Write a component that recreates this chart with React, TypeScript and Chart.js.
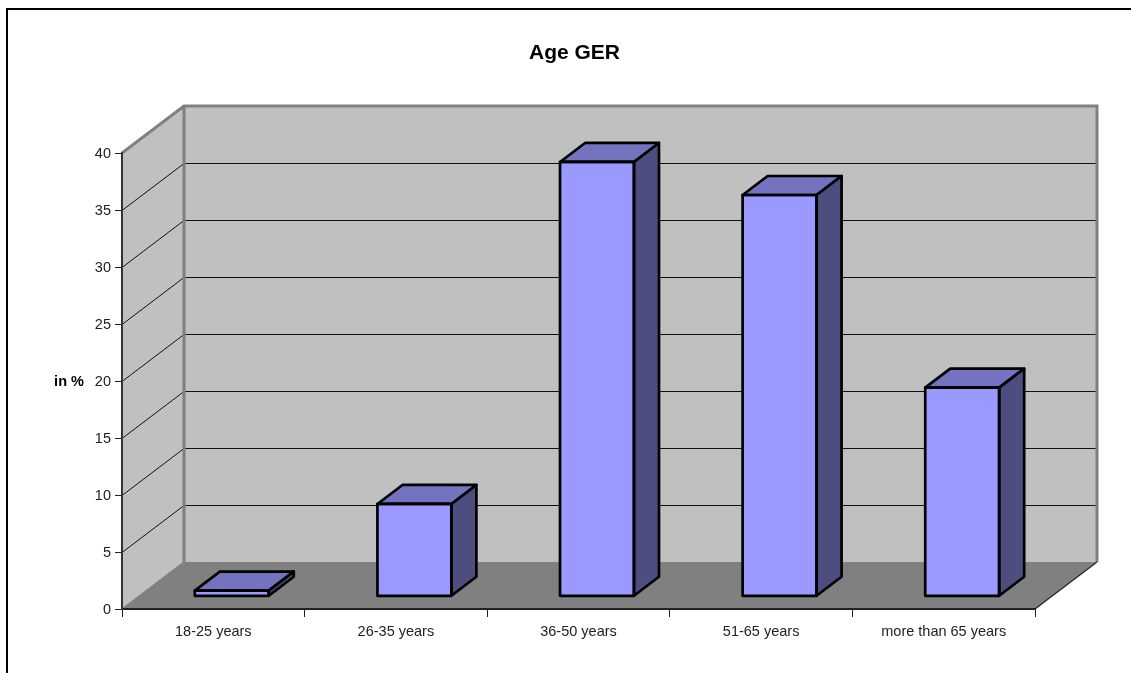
import React, { useEffect, useRef } from "react";
import { Chart, registerables } from "chart.js";

Chart.register(...registerables);

const ageGroups = ["18-25 years", "26-35 years", "36-50 years", "51-65 years", "more than 65 years"];
const sharePercent = [0.5, 8.1, 38.1, 35.2, 18.3];
const chartTitle = "Age GER";
const valueAxisLabel = "in %";

const FONT = "'Liberation Sans', Arial, sans-serif";
const WALL = "#C0C0C0";
const FLOOR = "#808080";
const EDGE = "#808080";
const BAR_FRONT = "#9999FF";
const BAR_TOP = "#7373BF";
const BAR_SIDE = "#4D4D80";

// Projection of the box: how far the back wall sits from the front plane.
const ROOM_DX = 62;
const ROOM_DY = 47;
// Where the bars stand inside the room, and how deep they are.
const BAR_DX = 18.5;
const BAR_DY = 12.7;
const BAR_DEPTH_X = 25;
const BAR_DEPTH_Y = 19;
const BAR_OUTLINE = 2.7;

const roomPlugin = {
  id: "room",
  afterLayout(chart: any) {
    // The value scale keeps a narrow layout box; widen it so its labels are not clipped.
    chart.scales.y.left = 20;
  },
  beforeDraw(chart: any) {
    const { ctx, chartArea: a, scales } = chart;
    const yScale = scales.y;
    const y0 = yScale.getPixelForValue(0);
    const yMax = yScale.getPixelForValue(40);
    const L = a.left;
    const R = a.right;

    ctx.save();
    // Page frame: only the left and top sides fall on the canvas.
    ctx.strokeStyle = "#000";
    ctx.lineWidth = 2;
    ctx.beginPath();
    ctx.moveTo(7, chart.height);
    ctx.lineTo(7, 9);
    ctx.lineTo(chart.width, 9);
    ctx.stroke();

    // Floor
    ctx.fillStyle = FLOOR;
    ctx.beginPath();
    ctx.moveTo(L, y0);
    ctx.lineTo(L + ROOM_DX, y0 - ROOM_DY);
    ctx.lineTo(R + ROOM_DX, y0 - ROOM_DY);
    ctx.lineTo(R, y0);
    ctx.closePath();
    ctx.fill();

    // Left and back walls
    ctx.fillStyle = WALL;
    ctx.beginPath();
    ctx.moveTo(L, y0);
    ctx.lineTo(L, yMax);
    ctx.lineTo(L + ROOM_DX, yMax - ROOM_DY);
    ctx.lineTo(L + ROOM_DX, y0 - ROOM_DY);
    ctx.closePath();
    ctx.fill();
    ctx.fillRect(L + ROOM_DX, yMax - ROOM_DY, R - L, y0 - yMax);

    // Gridlines run along the left wall, then across the back wall.
    ctx.strokeStyle = "#111";
    ctx.lineWidth = 1;
    yScale.ticks.forEach((t: any) => {
      if (t.value <= 0 || t.value >= 40) return;
      const y = Math.round(yScale.getPixelForValue(t.value)) + 0.5;
      ctx.beginPath();
      ctx.moveTo(L, y);
      ctx.lineTo(L + ROOM_DX, y - ROOM_DY);
      ctx.lineTo(R + ROOM_DX, y - ROOM_DY);
      ctx.stroke();
    });

    // Wall edges
    ctx.strokeStyle = EDGE;
    ctx.lineWidth = 3;
    ctx.lineJoin = "miter";
    ctx.beginPath();
    ctx.moveTo(L, yMax);
    ctx.lineTo(L + ROOM_DX, yMax - ROOM_DY);
    ctx.lineTo(R + ROOM_DX, yMax - ROOM_DY);
    ctx.lineTo(R + ROOM_DX, y0 - ROOM_DY);
    ctx.moveTo(L + ROOM_DX, yMax - ROOM_DY);
    ctx.lineTo(L + ROOM_DX, y0 - ROOM_DY);
    ctx.stroke();

    ctx.lineWidth = 1.5;
    ctx.beginPath();
    ctx.moveTo(L, y0);
    ctx.lineTo(L + ROOM_DX, y0 - ROOM_DY);
    ctx.stroke();

    ctx.strokeStyle = "#222";
    ctx.lineWidth = 1.2;
    ctx.beginPath();
    ctx.moveTo(R, y0);
    ctx.lineTo(R + ROOM_DX, y0 - ROOM_DY);
    ctx.stroke();

    // Value axis caption, set horizontally beside the axis.
    ctx.fillStyle = "#000";
    ctx.font = `bold 14.5px ${FONT}`;
    ctx.textAlign = "center";
    ctx.textBaseline = "middle";
    ctx.fillText(valueAxisLabel, 69, 382);
    ctx.restore();
  },
  beforeDatasetsDraw(chart: any) {
    chart.ctx.save();
    chart.ctx.translate(BAR_DX, -BAR_DY);
  },
  afterDatasetsDraw(chart: any) {
    const { ctx } = chart;
    ctx.strokeStyle = "#000";
    ctx.lineWidth = BAR_OUTLINE;
    ctx.lineJoin = "round";
    chart.getDatasetMeta(0).data.forEach((bar: any) => {
      const left = bar.x - bar.width / 2;
      const right = bar.x + bar.width / 2;
      const top = bar.y;
      const bottom = bar.base;

      ctx.fillStyle = BAR_TOP;
      ctx.beginPath();
      ctx.moveTo(left, top);
      ctx.lineTo(left + BAR_DEPTH_X, top - BAR_DEPTH_Y);
      ctx.lineTo(right + BAR_DEPTH_X, top - BAR_DEPTH_Y);
      ctx.lineTo(right, top);
      ctx.closePath();
      ctx.fill();
      ctx.stroke();

      ctx.fillStyle = BAR_SIDE;
      ctx.beginPath();
      ctx.moveTo(right, top);
      ctx.lineTo(right + BAR_DEPTH_X, top - BAR_DEPTH_Y);
      ctx.lineTo(right + BAR_DEPTH_X, bottom - BAR_DEPTH_Y);
      ctx.lineTo(right, bottom);
      ctx.closePath();
      ctx.fill();
      ctx.stroke();

      ctx.strokeRect(left, top, right - left, bottom - top);
    });
    ctx.restore();
  },
};

export default function App() {
  const canvasRef = useRef<HTMLCanvasElement>(null);

  useEffect(() => {
    const chart = new Chart(canvasRef.current as HTMLCanvasElement, {
      type: "bar",
      data: {
        labels: ageGroups,
        datasets: [
          {
            data: sharePercent,
            backgroundColor: BAR_FRONT,
            borderWidth: 0,
            barPercentage: 0.405,
            categoryPercentage: 1,
            clip: false,
          },
        ],
      } as any,
      options: {
        responsive: false,
        animation: false,
        layout: { padding: { left: 114, right: 96, top: 20, bottom: 0 } },
        plugins: {
          legend: { display: false },
          tooltip: { enabled: false },
          title: {
            display: true,
            text: chartTitle,
            color: "#000",
            font: { family: FONT, size: 21, weight: "bold", lineHeight: 1.2 },
            padding: { top: 20.4, bottom: 87.4 },
          },
        },
        scales: {
          x: {
            afterFit(scale: any) {
              scale.height = 64;
            },
            border: { color: "#222", width: 2 },
            grid: {
              drawOnChartArea: false,
              color: (c: any) => (c.index === ageGroups.length ? "#808080" : "#222"),
              tickLength: 8,
              offset: true,
            },
            ticks: {
              color: "#222",
              padding: 6,
              maxRotation: 0,
              font: { family: FONT, size: 14.5 },
            },
          },
          y: {
            min: 0,
            max: 40,
            afterFit(scale: any) {
              scale.width = 8;
            },
            border: { color: "#333", width: 2 },
            grid: { drawOnChartArea: false, color: "#222", tickLength: 7 },
            ticks: {
              stepSize: 5,
              color: "#222",
              padding: 4,
              labelOffset: 1,
              font: { family: FONT, size: 14.5 },
            },
          },
        },
      },
      plugins: [roomPlugin],
    } as any);
    return () => chart.destroy();
  }, []);

  return (
    <div style={{ position: "absolute", left: 0, top: 0 }}>
      <canvas ref={canvasRef} width={1131} height={673} style={{ display: "block" }} />
    </div>
  );
}
